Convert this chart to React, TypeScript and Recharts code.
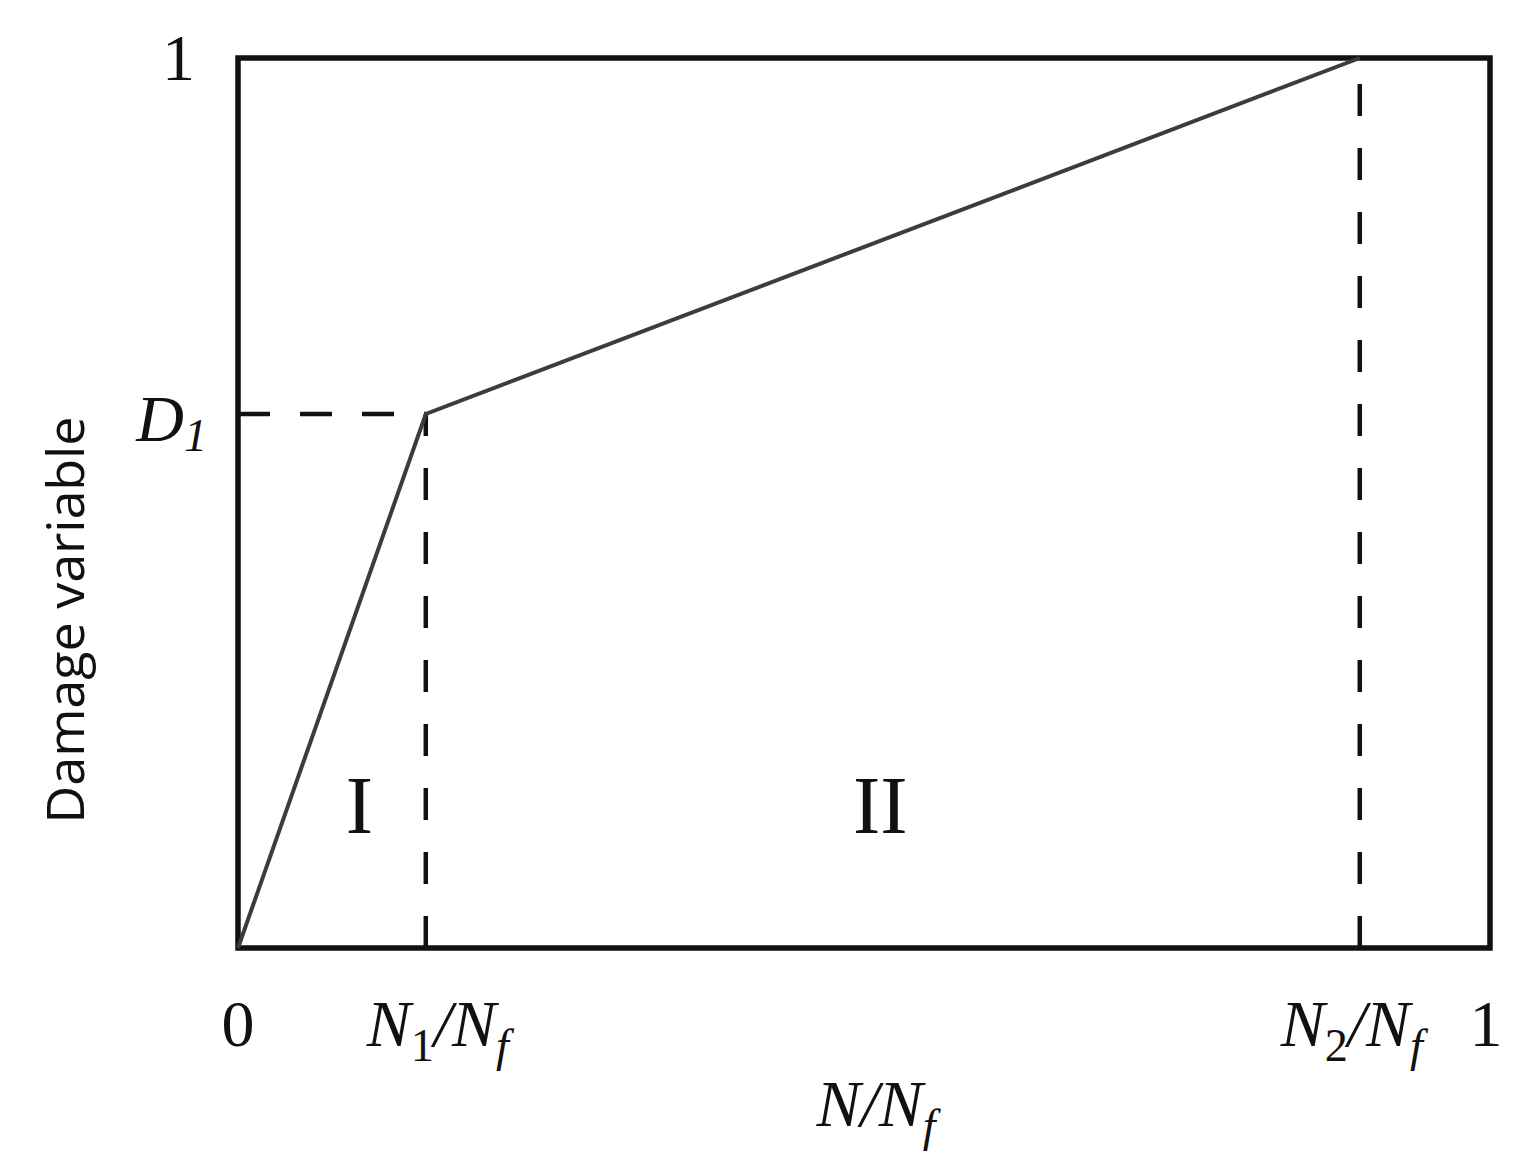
import React from "react";
import {
  LineChart,
  Line,
  XAxis,
  YAxis,
  ReferenceLine,
  ReferenceArea,
  ReferenceDot,
} from "recharts";

// Schaedigungsverlauf: zwei lineare Abschnitte bis zum Bruch
const curveN = [0, 0.15, 0.896];
const curveD = [0, 0.6, 1];

// Achsenmarken (Position + Beschriftung)
const xTickValues = [0, 0.15, 0.896, 1];
const xTickLabels = ["0", "N1/Nf", "N2/Nf", "1"];
const yTickValues = [0.6, 1];
const yTickLabels = ["D1", "1"];

// Bereichsnamen
const regionNames = ["I", "II"];
const regionN = [0.097, 0.513];
const regionD = [0.16, 0.16];

const SERIF = "'Liberation Serif', 'Times New Roman', serif";
const SANS = "'Open Sans', 'Noto Sans', sans-serif";
const INK = "#111";
const LINE = "#3c3c3c";

const data = curveN.map((n, i) => ({ n, d: curveD[i] }));

// "N1/Nf" -> N mit tiefgestellter Ziffer / N mit tiefgestelltem f
function renderRatio(label: string, fs: number) {
  const sub = label.charAt(1);
  const small = fs * 0.7;
  return (
    <>
      <tspan fontStyle="italic">N</tspan>
      <tspan fontSize={small} dy={fs * 0.22}>{sub}</tspan>
      <tspan dy={-fs * 0.22} fontStyle="italic">/N</tspan>
      <tspan fontSize={small} fontStyle="italic" dy={fs * 0.22}>f</tspan>
    </>
  );
}

function XTick(props: any) {
  const { x, y, payload } = props;
  const idx = xTickValues.indexOf(payload.value);
  const label = xTickLabels[idx] ?? String(payload.value);
  const fs = 66;
  const isRatio = label.length > 1;
  const shift = label === "N1/Nf" ? 12 : label === "N2/Nf" ? -8 : label === "1" ? -4 : 0;
  return (
    <text
      x={x + shift}
      y={y + 90}
      textAnchor="middle"
      fontFamily={SERIF}
      fontSize={fs}
      fill={INK}
    >
      {isRatio ? renderRatio(label, fs) : label}
    </text>
  );
}

function YTick(props: any) {
  const { y, payload } = props;
  const idx = yTickValues.indexOf(payload.value);
  const label = yTickLabels[idx] ?? String(payload.value);
  const fs = 66;
  if (label === "D1") {
    return (
      <text x={207} y={y + 27} textAnchor="end" fontFamily={SERIF} fontSize={fs} fill={INK}>
        <tspan fontStyle="italic">D</tspan>
        <tspan fontStyle="italic" fontSize={fs * 0.7} dy={fs * 0.15}>1</tspan>
      </text>
    );
  }
  return (
    <text x={195} y={y + 22} textAnchor="end" fontFamily={SERIF} fontSize={fs} fill={INK}>
      {label}
    </text>
  );
}

function RegionLabel(props: any) {
  const { viewBox, value } = props;
  const cx = viewBox.x + viewBox.width / 2;
  const cy = viewBox.y + viewBox.height / 2;
  return (
    <text x={cx} y={cy + 27} textAnchor="middle" fontFamily={SERIF} fontSize={82} fill={INK}>
      {value}
    </text>
  );
}

export default function App() {
  return (
    <div style={{ margin: -8, background: "#fff", width: 1532, height: 1174 }}>
      <LineChart
        width={1532}
        height={1174}
        data={data}
        margin={{ top: 58, right: 42, left: 0, bottom: 0 }}
      >
        <XAxis
          type="number"
          dataKey="n"
          domain={[0, 1]}
          ticks={xTickValues}
          tick={<XTick />}
          tickLine={false}
          axisLine={false}
          height={226}
          interval={0}
          label={{
            content: (p: any) => {
              const vb = p.viewBox;
              return (
                <text
                  x={vb.x + vb.width / 2 + 12}
                  y={vb.y + 178}
                  textAnchor="middle"
                  fontFamily={SERIF}
                  fontSize={66}
                  fill={INK}
                >
                  <tspan fontStyle="italic">N/N</tspan>
                  <tspan fontStyle="italic" fontSize={46} dy={15}>f</tspan>
                </text>
              );
            },
          }}
        />
        <YAxis
          type="number"
          domain={[0, 1]}
          ticks={yTickValues}
          tick={<YTick />}
          tickLine={false}
          axisLine={false}
          width={238}
          interval={0}
          label={{
            content: () => {
              const cy = 620;
              return (
                <text
                  x={84}
                  y={cy}
                  transform={`rotate(-90, 84, ${cy})`}
                  textAnchor="middle"
                  fontFamily={SANS}
                  fontSize={52}
                  fill={INK}
                >
                  Damage variable
                </text>
              );
            },
          }}
        />
        <ReferenceLine
          segment={[{ x: 0, y: curveD[1] }, { x: curveN[1], y: curveD[1] }]}
          stroke={INK}
          strokeWidth={4.5}
          strokeDasharray="32 30"
        />
        <ReferenceLine
          segment={[{ x: curveN[1], y: 0 }, { x: curveN[1], y: curveD[1] }]}
          stroke={INK}
          strokeWidth={4.5}
          strokeDasharray="32 32"
        />
        <ReferenceLine
          segment={[{ x: curveN[2], y: 0 }, { x: curveN[2], y: curveD[2] }]}
          stroke={INK}
          strokeWidth={4.5}
          strokeDasharray="32 32"
        />
        {regionNames.map((name, i) => (
          <ReferenceDot
            key={name}
            x={regionN[i]}
            y={regionD[i]}
            r={1}
            fill="none"
            stroke="none"
            label={<RegionLabel value={name} />}
          />
        ))}
        <Line
          type="linear"
          dataKey="d"
          stroke={LINE}
          strokeWidth={4}
          dot={false}
          isAnimationActive={false}
        />
        <ReferenceArea
          x1={0}
          x2={1}
          y1={0}
          y2={1}
          fill="none"
          stroke={INK}
          strokeWidth={5.5}
          ifOverflow="visible"
        />
      </LineChart>
    </div>
  );
}
